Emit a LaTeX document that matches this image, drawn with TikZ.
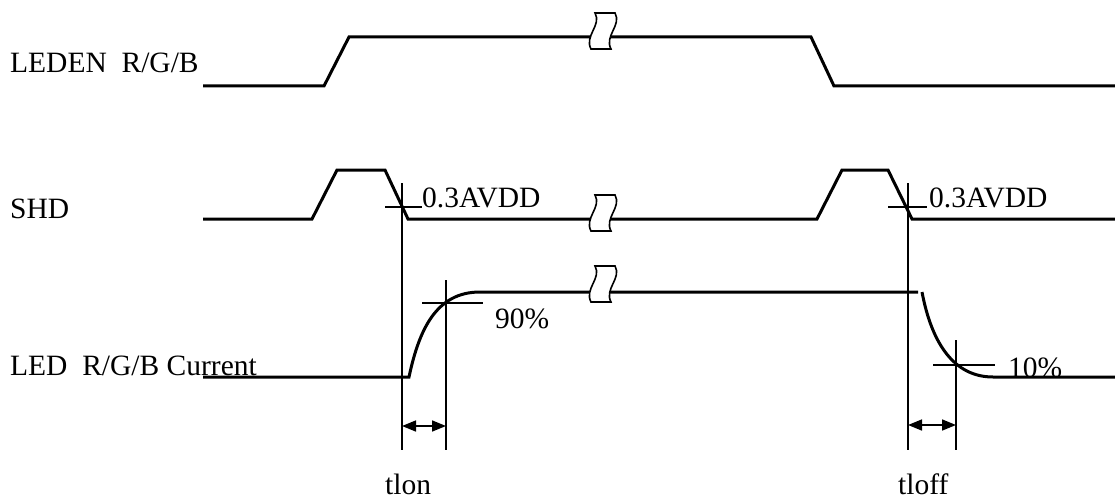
\documentclass[tikz,border=0pt]{standalone}
\usepackage{fontspec}
\setmainfont{Liberation Serif}
\usetikzlibrary{arrows.meta}
\begin{document}
\begin{tikzpicture}[x=1pt,y=-1pt,
  sig/.style={line width=3pt, line join=miter},
  hair/.style={line width=1.6pt},
  lbl/.style={anchor=base west, inner sep=0pt, font=\fontsize{29.5}{32}\selectfont},
  dimarrow/.style={line width=1.6pt, {Triangle[length=14pt,width=11pt]}-{Triangle[length=14pt,width=11pt]}},
  brk/.style={fill=white, draw=black, line width=1.6pt},
  brkpic/.pic={\path[brk] (6,-24) .. controls (13,-12) and (-5,-1) .. (2,12) -- (22,12) .. controls (15,-1) and (33,-12) .. (26,-24) -- cycle;}]
\useasboundingbox (0,0) rectangle (1115,500);

% labels
\node[lbl] (l1) at (10,73) {LEDEN\ \ R/G/B};
\node[lbl] (l2) at (10,218) {SHD};
\node[lbl] (l3) at (10,375) {LED\ \ R/G/B Current};

% LEDEN
\draw[sig] (203,86) -- (324,86) -- (349,37) -- (811,37) -- (834,86) -- (1115,86);
\pic at (589,37) {brkpic};

% SHD
\draw[sig] (203,219) -- (312,219) -- (337,170) -- (385,170) -- (408,219) -- (817,219)
  -- (842,170) -- (888,170) -- (912,219) -- (1115,219);
\pic at (589,219) {brkpic};

% Current
\draw[sig] (203,377) -- (409,377) .. controls (419,330) and (436,292) .. (480,292) -- (918,292);
\draw[sig] (922,292) .. controls (932,345) and (955,377) .. (993,377) -- (1115,377);
\pic at (589,290) {brkpic};

% crosshairs and vertical lines
\coordinate (v1t) at (402,183); \coordinate (v1b) at (402,450);
\coordinate (v2t) at (446,280); \coordinate (v2b) at (446,450);
\coordinate (v3t) at (908,183); \coordinate (v3b) at (908,450);
\coordinate (v4t) at (956,340); \coordinate (v4b) at (956,450);
\draw[hair] (v1t) -- (v1b);
\draw[hair] (v2t) -- (v2b);
\draw[hair] (v3t) -- (v3b);
\draw[hair] (v4t) -- (v4b);
\coordinate (h1a) at (385,207); \coordinate (h1b) at (422,207);
\coordinate (h2a) at (422,303); \coordinate (h2b) at (483,303);
\coordinate (h3a) at (888,207); \coordinate (h3b) at (927,207);
\coordinate (h4a) at (933,365); \coordinate (h4b) at (995,365);
\draw[hair] (h1a) -- (h1b);
\draw[hair] (h2a) -- (h2b);
\draw[hair] (h3a) -- (h3b);
\draw[hair] (h4a) -- (h4b);

\node[lbl] (a1) at (422,207) {0.3AVDD};
\node[lbl] (a2) at (929,207) {0.3AVDD};
\node[lbl] (p90) at (495,328) {90\%};
\node[lbl] (p10) at (1008,377) {10\%};

% time arrows
\coordinate (t1a) at (402,426); \coordinate (t1b) at (446,426);
\coordinate (t2a) at (908,425); \coordinate (t2b) at (956,425);
\draw[dimarrow] (t1a) -- (t1b);
\draw[dimarrow] (t2a) -- (t2b);
\node[lbl] (tlon) at (385,494) {tlon};
\node[lbl] (tloff) at (898,494) {tloff};
\end{tikzpicture}
\end{document}
